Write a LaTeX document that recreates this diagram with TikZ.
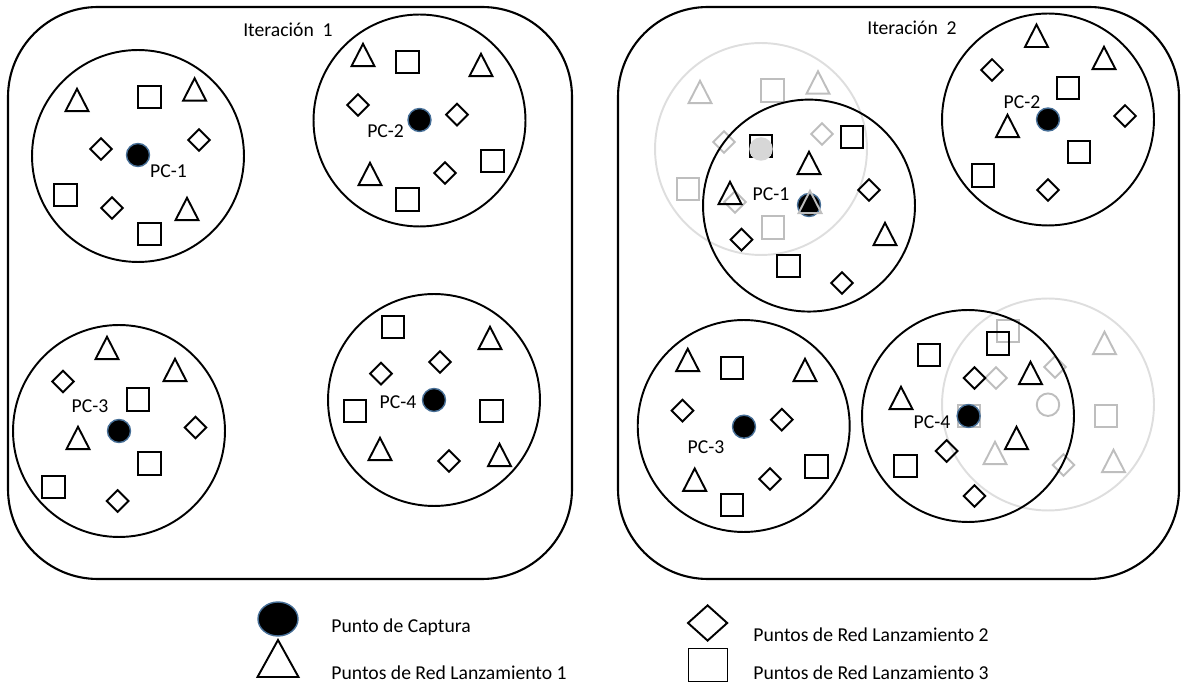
\documentclass[tikz,border=0pt]{standalone}
\usepackage{fontspec}
\setmainfont{Carlito}
\usepackage{tikz}
\usetikzlibrary{shapes.geometric}

\definecolor{ghostgray}{RGB}{190,190,190}
\definecolor{ringgray}{RGB}{222,222,222}
\definecolor{dotgray}{RGB}{215,215,215}
\definecolor{dotrim}{RGB}{70,110,150}

\tikzset{
	markline/.style={line width=1.1pt},
	panel/.style={draw, line width=1.2pt, rounded corners=1.8cm},
	zone/.style={circle, draw, line width=1.1pt, minimum size=4.24cm, inner sep=0pt},
	oldzone/.style={zone, draw=ringgray},
	sq/.style={rectangle, draw, markline, minimum size=0.45cm, inner sep=0pt},
	dia/.style={diamond, draw, markline, minimum width=0.45cm, minimum height=0.45cm, inner sep=0pt},
	capt/.style={circle, fill=black, draw=dotrim, line width=0.8pt, minimum size=0.46cm, inner sep=0pt},
	ghost/.style={color=ghostgray},
	tri/.pic={\draw[markline] (-11.5,11.2) -- (11.5,11.2) -- (0,-11.2) -- cycle;},
	lbl/.style={font=\fontsize{11.2}{13}\selectfont, inner sep=0pt, anchor=base}
}

\begin{document}
\begin{tikzpicture}[x=0.02cm, y=-0.02cm]
	\useasboundingbox (0,0) rectangle (1183,685);

	% two iterations
	\draw[panel] (8,7) rectangle (572,579);
	\draw[panel] (618,7) rectangle (1179,579);
	\node[lbl] (iter1) at (288,36.5) {Iteración\ \ 1};
	\node[lbl] (iter2) at (912,35) {Iteración\ \ 2};

	% ---- iteration 1 ----
	\node[zone] (z1) at (138,156) {};
	\node[zone] (z2) at (419.5,120.5) {};
	\node[zone] (z3) at (119,431) {};
	\node[zone] (z4) at (434,400) {};

	\foreach \x/\y in {77/100, 194.6/89.5, 187/209, 363/55, 481/65, 370/174,
		107/348, 175/370, 78/438, 490/338, 380/449, 499.5/455}
		\pic at (\x,\y) {tri};
	\foreach \x/\y in {149.5/97, 65.5/195, 149.5/234, 407.5/62, 492.5/161, 407.5/199.6,
		138/399.7, 149.5/463.7, 53.6/487, 393/327, 355/411, 491.5/411}
		\node[sq] at (\x,\y) {};
	\foreach \x/\y in {101/149, 199/140, 112/208, 358/105, 457/114.6, 445/173,
		63/381.5, 195.5/427.5, 117.6/501, 381/373.7, 440/362, 449/461}
		\node[dia] at (\x,\y) {};

	\node[capt] (pc1a) at (138,155) {};
	\node[capt] (pc2a) at (419.5,120) {};
	\node[capt] (pc3a) at (119,431) {};
	\node[capt] (pc4a) at (434,400) {};
	\node[lbl] at (168.5,178) {PC-1};
	\node[lbl] at (385.6,138) {PC-2};
	\node[lbl] at (90,412.5) {PC-3};
	\node[lbl] at (398,409) {PC-4};

	% ---- iteration 2 ----
	% previous positions (faded)
	\node[oldzone] (old1) at (761,149) {};
	\node[oldzone] (old4) at (1048,404.5) {};
	\foreach \x/\y in {700/92, 818/82.5, 1104.5/343, 995/453, 1113.5/461}
		\pic[ghost] at (\x,\y) {tri};
	\foreach \x/\y in {772.5/90.5, 688/189, 773/227.5, 1008/331, 1106/416, 969/416}
		\node[sq, ghost] at (\x,\y) {};
	\foreach \x/\y in {724/142, 822/134, 735/202, 1055/367, 996/378, 1063.5/465}
		\node[dia, ghost] at (\x,\y) {};
	\node[circle, draw=ghostgray, markline, minimum size=0.45cm, inner sep=0pt] (oldpc4) at (1048,404.7) {};

	% new positions
	\node[zone] (n1) at (809,205.6) {};
	\node[zone] (n2) at (1048,119.5) {};
	\node[zone] (n3) at (743.7,426) {};
	\node[zone] (n4) at (968,416) {};

	\foreach \x/\y in {809/163, 730/193, 885/234, 1036.5/35.8, 1104/58, 1007.5/126,
		687.7/360, 805/370, 694.7/479.7, 901/398, 1030.5/373, 1016.5/438}
		\pic at (\x,\y) {tri};
	\foreach \x/\y in {761/146, 852/137, 788.5/266, 1068/88, 1079/152, 983/175.5,
		732/368, 816.6/466.7, 732/505, 929/355, 998/343.7, 905.6/466}
		\node[sq] at (\x,\y) {};
	\foreach \x/\y in {869/190, 741.5/239.7, 842/283, 992/70, 1125/116, 1048/190,
		682.5/410.7, 781.8/419.7, 770/479, 974.5/378, 946.7/451, 974.5/496}
		\node[dia] at (\x,\y) {};

	\node[circle, fill=dotgray, minimum size=0.47cm, inner sep=0pt] (oldpc1) at (761,149) {};
	\node[capt] (pc1b) at (809,205) {};
	\node[capt] (pc2b) at (1048,119.5) {};
	\node[capt] (pc3b) at (744,426.7) {};
	\node[capt] (pc4b) at (968.6,416) {};
	\pic[ghost] at (810,202) {tri};
	\node[lbl] at (771,201) {PC-1};
	\node[lbl] at (1022,108.3) {PC-2};
	\node[lbl] at (706,453.3) {PC-3};
	\node[lbl] at (932,428.3) {PC-4};

	% legend
	\node[capt, ellipse, minimum width=0.8cm, minimum height=0.68cm] (keydot) at (278,619) {};
	\pic[xscale=1.78, yscale=1.65] at (278,658.5) {tri};
	\node[dia, minimum width=0.8cm, minimum height=0.72cm] (keydia) at (707.6,623) {};
	\node[sq, minimum width=0.78cm, minimum height=0.66cm] (keysq) at (708,665) {};
	\node[lbl, anchor=base west] at (331,632.5) {Punto de Captura};
	\node[lbl, anchor=base west] at (331,679) {Puntos de Red Lanzamiento 1};
	\node[lbl, anchor=base west] at (753,641.5) {Puntos de Red Lanzamiento 2};
	\node[lbl, anchor=base west] at (753,679) {Puntos de Red Lanzamiento 3};
\end{tikzpicture}
\end{document}
